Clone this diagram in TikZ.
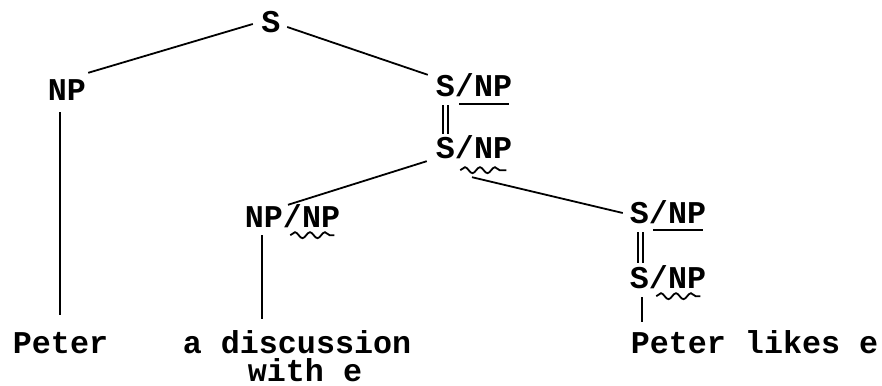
\documentclass[tikz,border=0pt]{standalone}
\usepackage{fontspec}
\setmonofont{Liberation Mono}
\usetikzlibrary{decorations.pathmorphing}

\begin{document}
\begin{tikzpicture}[x=1pt,y=-1pt,
         cat/.style = {anchor=base, inner sep=0pt, text height=18pt,
            text depth=0pt, font=\ttfamily\bfseries\fontsize{31.7}{36}\selectfont},
         word/.style = {cat},
         branch/.style = {line width=1.8pt},
         equal/.style = {double, line width=1.8pt, double distance=3.2pt},
         plain/.style = {line width=1.8pt},
         wavy/.style = {line width=1.8pt, decorate,
            decoration={snake, amplitude=3pt, segment length=15pt}}
]
      \useasboundingbox (0,0) rectangle (882,385);

      % categories
      \node[cat] (s)     at (271,33)   {S};
      \node[cat] (np)    at (67,100)   {NP};
      \node[cat] (snpa)  at (474,97)   {S/NP};
      \node[cat] (snpb)  at (474,158)  {S/NP};
      \node[cat] (npnp)  at (292.5,227) {NP/NP};
      \node[cat] (snpc)  at (668,223)  {S/NP};
      \node[cat] (snpd)  at (668,288)  {S/NP};

      % words
      \node[word] (peter)  at (60.5,353)  {Peter};
      \node[word] (disc)   at (297,353)   {a discussion};
      \node[word] (with)   at (305,381)   {with e};
      \node[word] (likes)  at (754.5,353) {Peter likes e};

      % tree
      \draw[branch] ([shift={(-8.5,0)}]s.west) -- ([shift={(2,-9)}]np.north east);
      \draw[branch] ([shift={(6.5,3)}]s.east) -- ([shift={(-8,-4)}]snpa.north west);
      \draw[branch] ([shift={(-9,3)}]snpb.south west) -- ([shift={(-4.5,-4)}]npnp.north);
      \draw[branch] ([shift={(-2,19)}]snpb.south) -- ([shift={(-7,-1)}]snpc.west);

      % equal categories
      \draw[equal] ([shift={(10,8)}]snpa.south west) -- ([shift={(10,-6)}]snpb.north west);
      \draw[equal] ([shift={(11,9)}]snpc.south west) -- ([shift={(11,-7)}]snpd.north west);

      % legs down to the words
      \coordinate (npleg)   at ([shift={(12,12)}]np.south west);
      \coordinate (npnpleg) at ([shift={(17,8)}]npnp.south west);
      \coordinate (snpleg)  at ([shift={(12,9)}]snpd.south west);
      \draw[branch, shorten >=20pt] (npleg) -- (npleg |- peter.north);
      \draw[branch, shorten >=16pt] (npnpleg) -- (npnpleg |- disc.north);
      \draw[plain, shorten >=13pt] (snpleg) -- (snpleg |- likes.north);

      % marks under the slashed NP
      \draw[plain] ([shift={(-53,6.5)}]snpa.south east) -- ([shift={(-3,6.5)}]snpa.south east);
      \draw[plain] ([shift={(-53,6.5)}]snpc.south east) -- ([shift={(-3,6.5)}]snpc.south east);
      \draw[wavy] ([shift={(-52,12)}]snpb.south east) -- ([shift={(-6,12)}]snpb.south east);
      \draw[wavy] ([shift={(-50,8)}]npnp.south east) -- ([shift={(-6,8)}]npnp.south east);
      \draw[wavy] ([shift={(-50,8)}]snpd.south east) -- ([shift={(-6,8)}]snpd.south east);
\end{tikzpicture}
\end{document}
